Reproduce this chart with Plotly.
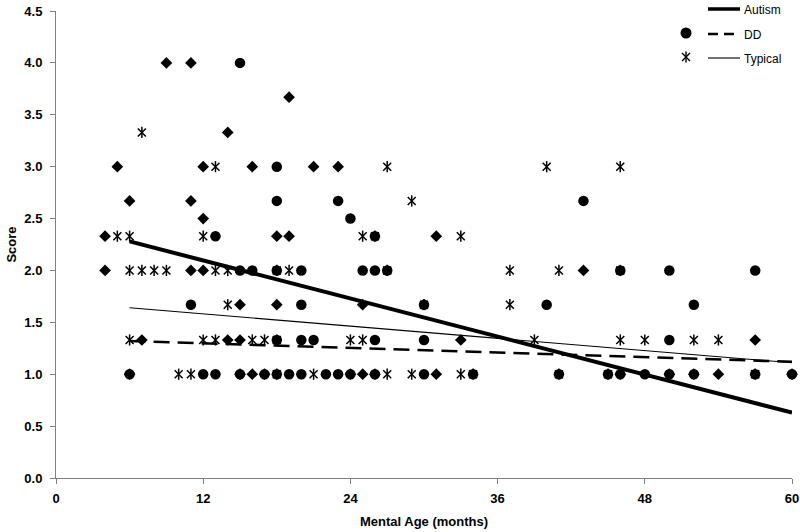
import plotly.graph_objects as go

# ---------------- data ----------------
autism_x = [9, 11, 19, 14,
            5, 12, 16, 21, 23,
            6, 11,
            12,
            4, 18, 19, 31,
            4, 11, 12, 43,
            15, 18, 25,
            7, 14, 15, 33, 57,
            16, 25, 31, 54,
            6, 15, 17, 24, 26, 46, 50, 52, 60]
autism_y = [4.0, 4.0, 3.67, 3.33,
            3.0, 3.0, 3.0, 3.0, 3.0,
            2.67, 2.67,
            2.5,
            2.33, 2.33, 2.33, 2.33,
            2.0, 2.0, 2.0, 2.0,
            1.67, 1.67, 1.67,
            1.33, 1.33, 1.33, 1.33, 1.33,
            1.0, 1.0, 1.0, 1.0,
            1.0, 1.0, 1.0, 1.0, 1.0, 1.0, 1.0, 1.0, 1.0]

dd_x = [15, 18, 18, 23, 43, 24, 13, 26,
        15, 16, 20, 25, 26, 50, 57, 18, 27, 46,
        11, 20, 40, 52, 30,
        20, 21, 26, 30, 50, 18,
        12, 13, 19, 20, 22, 23, 30, 48,
        6, 15, 17, 24, 26, 46, 50, 52, 60,
        18, 34, 41, 45, 57]
dd_y = [4.0, 3.0, 2.67, 2.67, 2.67, 2.5, 2.33, 2.33,
        2.0, 2.0, 2.0, 2.0, 2.0, 2.0, 2.0, 2.0, 2.0, 2.0,
        1.67, 1.67, 1.67, 1.67, 1.67,
        1.33, 1.33, 1.33, 1.33, 1.33, 1.33,
        1.0, 1.0, 1.0, 1.0, 1.0, 1.0, 1.0, 1.0,
        1.0, 1.0, 1.0, 1.0, 1.0, 1.0, 1.0, 1.0, 1.0,
        1.0, 1.0, 1.0, 1.0, 1.0]

typical_x = [7, 13, 27, 40, 46, 29,
             5, 6, 12, 25, 33, 26,
             6, 7, 8, 9, 13, 14, 19, 37, 41, 18, 27, 46,
             14, 37, 30,
             6, 12, 13, 16, 17, 24, 25, 39, 46, 48, 52, 54, 18,
             10, 11, 21, 27, 29, 33, 18, 34, 41, 45, 57]
typical_y = [3.33, 3.0, 3.0, 3.0, 3.0, 2.67,
             2.33, 2.33, 2.33, 2.33, 2.33, 2.33,
             2.0, 2.0, 2.0, 2.0, 2.0, 2.0, 2.0, 2.0, 2.0, 2.0, 2.0, 2.0,
             1.67, 1.67, 1.67,
             1.33, 1.33, 1.33, 1.33, 1.33, 1.33, 1.33, 1.33, 1.33, 1.33, 1.33, 1.33, 1.33,
             1.0, 1.0, 1.0, 1.0, 1.0, 1.0, 1.0, 1.0, 1.0, 1.0, 1.0]

trend_x = [6, 60]
autism_trend = [2.28, 0.63]
dd_trend = [1.32, 1.12]
typical_trend = [1.64, 1.11]

x_ticks = [0, 12, 24, 36, 48, 60]
y_ticks = [0.0, 0.5, 1.0, 1.5, 2.0, 2.5, 3.0, 3.5, 4.0, 4.5]
legend_names = ["Autism", "DD", "Typical"]

# ---------------- figure ----------------
W, H = 800, 532
L, R, T, B = 56, 8, 11, 54
FONT = "Liberation Sans, Arial, sans-serif"

fig = go.Figure()

ast_size = 8
# Typical (asterisk = x + vertical bar)
for sym in ["x-thin-open", "line-ns-open"]:
    fig.add_trace(go.Scatter(x=typical_x, y=typical_y, mode="markers", cliponaxis=False,
                             marker=dict(symbol=sym, size=ast_size, color="black",
                                         line=dict(color="black", width=1.5)),
                             showlegend=False))
# DD circles
fig.add_trace(go.Scatter(x=dd_x, y=dd_y, mode="markers", cliponaxis=False,
                         marker=dict(symbol="circle", size=10.5, color="black",
                                     line=dict(width=0)),
                         showlegend=False))
# Autism diamonds
fig.add_trace(go.Scatter(x=autism_x, y=autism_y, mode="markers", cliponaxis=False,
                         marker=dict(symbol="diamond", size=9, color="black",
                                     line=dict(width=0)),
                         showlegend=False))

# Trend lines
fig.add_trace(go.Scatter(x=trend_x, y=typical_trend, mode="lines",
                         line=dict(color="black", width=1.1), showlegend=False))
fig.add_trace(go.Scatter(x=trend_x, y=dd_trend, mode="lines",
                         line=dict(color="black", width=2.6, dash="16px,8px"),
                         showlegend=False))
fig.add_trace(go.Scatter(x=trend_x, y=autism_trend, mode="lines",
                         line=dict(color="black", width=4), showlegend=False))

# ---------------- manual legend (pixel coordinates via overlay axes) ----------------
plot_w = W - L - R
plot_h = H - T - B

def px(xp):
    return (xp - L) / plot_w

def py(yp):
    return (H - B - yp) / plot_h

leg_marker_x = [686, 686, 686]
leg_marker_y = [8, 33, 57]
fig.add_trace(go.Scatter(x=[leg_marker_x[0]], y=[leg_marker_y[0]], xaxis="x2", yaxis="y2",
                         mode="markers", cliponaxis=False, showlegend=False,
                         marker=dict(symbol="diamond", size=9, color="black")))
fig.add_trace(go.Scatter(x=[leg_marker_x[1]], y=[leg_marker_y[1]], xaxis="x2", yaxis="y2",
                         mode="markers", cliponaxis=False, showlegend=False,
                         marker=dict(symbol="circle", size=11, color="black")))
for sym in ["x-thin-open", "line-ns-open"]:
    fig.add_trace(go.Scatter(x=[leg_marker_x[2]], y=[leg_marker_y[2]], xaxis="x2", yaxis="y2",
                             mode="markers", cliponaxis=False, showlegend=False,
                             marker=dict(symbol=sym, size=8, color="black",
                                         line=dict(color="black", width=1.4))))

shapes = []
leg_line_y = [9, 34, 58]
leg_styles = [dict(width=3.5, dash="solid"), dict(width=2.5, dash="10px,6px"),
              dict(width=1.1, dash="solid")]
for yy, st in zip(leg_line_y, leg_styles):
    shapes.append(dict(type="line", xref="paper", yref="paper",
                       x0=px(708), x1=px(740), y0=py(yy), y1=py(yy),
                       line=dict(color="black", width=st["width"], dash=st["dash"])))

annotations = []
leg_text_y = [10, 35, 59]
for name, yy in zip(legend_names, leg_text_y):
    annotations.append(dict(xref="paper", yref="paper", x=px(742), y=py(yy),
                            xanchor="left", yanchor="middle", text=name, showarrow=False,
                            font=dict(family=FONT, size=12, color="black")))

fig.update_layout(
    width=W, height=H,
    margin=dict(l=L, r=R, t=T, b=B, autoexpand=False),
    paper_bgcolor="white", plot_bgcolor="white",
    font=dict(family=FONT, color="black"),
    shapes=shapes, annotations=annotations,
    xaxis=dict(range=[0, 60], tickvals=x_ticks, ticktext=[str(v) for v in x_ticks],
               automargin=False,
               showgrid=False, zeroline=False, showline=True, linecolor="#808080",
               linewidth=1, ticks="outside", ticklen=5, tickcolor="#808080",
               ticklabelstandoff=3,
               tickfont=dict(family=FONT, size=13, color="black", weight="bold"),
               title=dict(text="<b>Mental Age (months)</b>", standoff=12,
                          font=dict(family=FONT, size=13, color="black"))),
    yaxis=dict(range=[0, 4.5], tickvals=y_ticks, ticktext=[f"{v:.1f}" for v in y_ticks],
               automargin=False,
               showgrid=False, zeroline=False, showline=True, linecolor="#808080",
               linewidth=1, ticks="outside", ticklen=5, tickcolor="#808080",
               ticklabelstandoff=5,
               tickfont=dict(family=FONT, size=13, color="black", weight="bold"),
               title=dict(text="<b>Score</b>", standoff=4,
                          font=dict(family=FONT, size=13, color="black"))),
    xaxis2=dict(range=[L, W - R], overlaying="x", visible=False, fixedrange=True),
    yaxis2=dict(range=[H - B, T], overlaying="y", visible=False, fixedrange=True),
)

fig.write_html("out.html",
               config={"displayModeBar": False, "staticPlot": True},
               post_script="document.body.style.margin='0px';document.body.style.overflow='hidden';")
